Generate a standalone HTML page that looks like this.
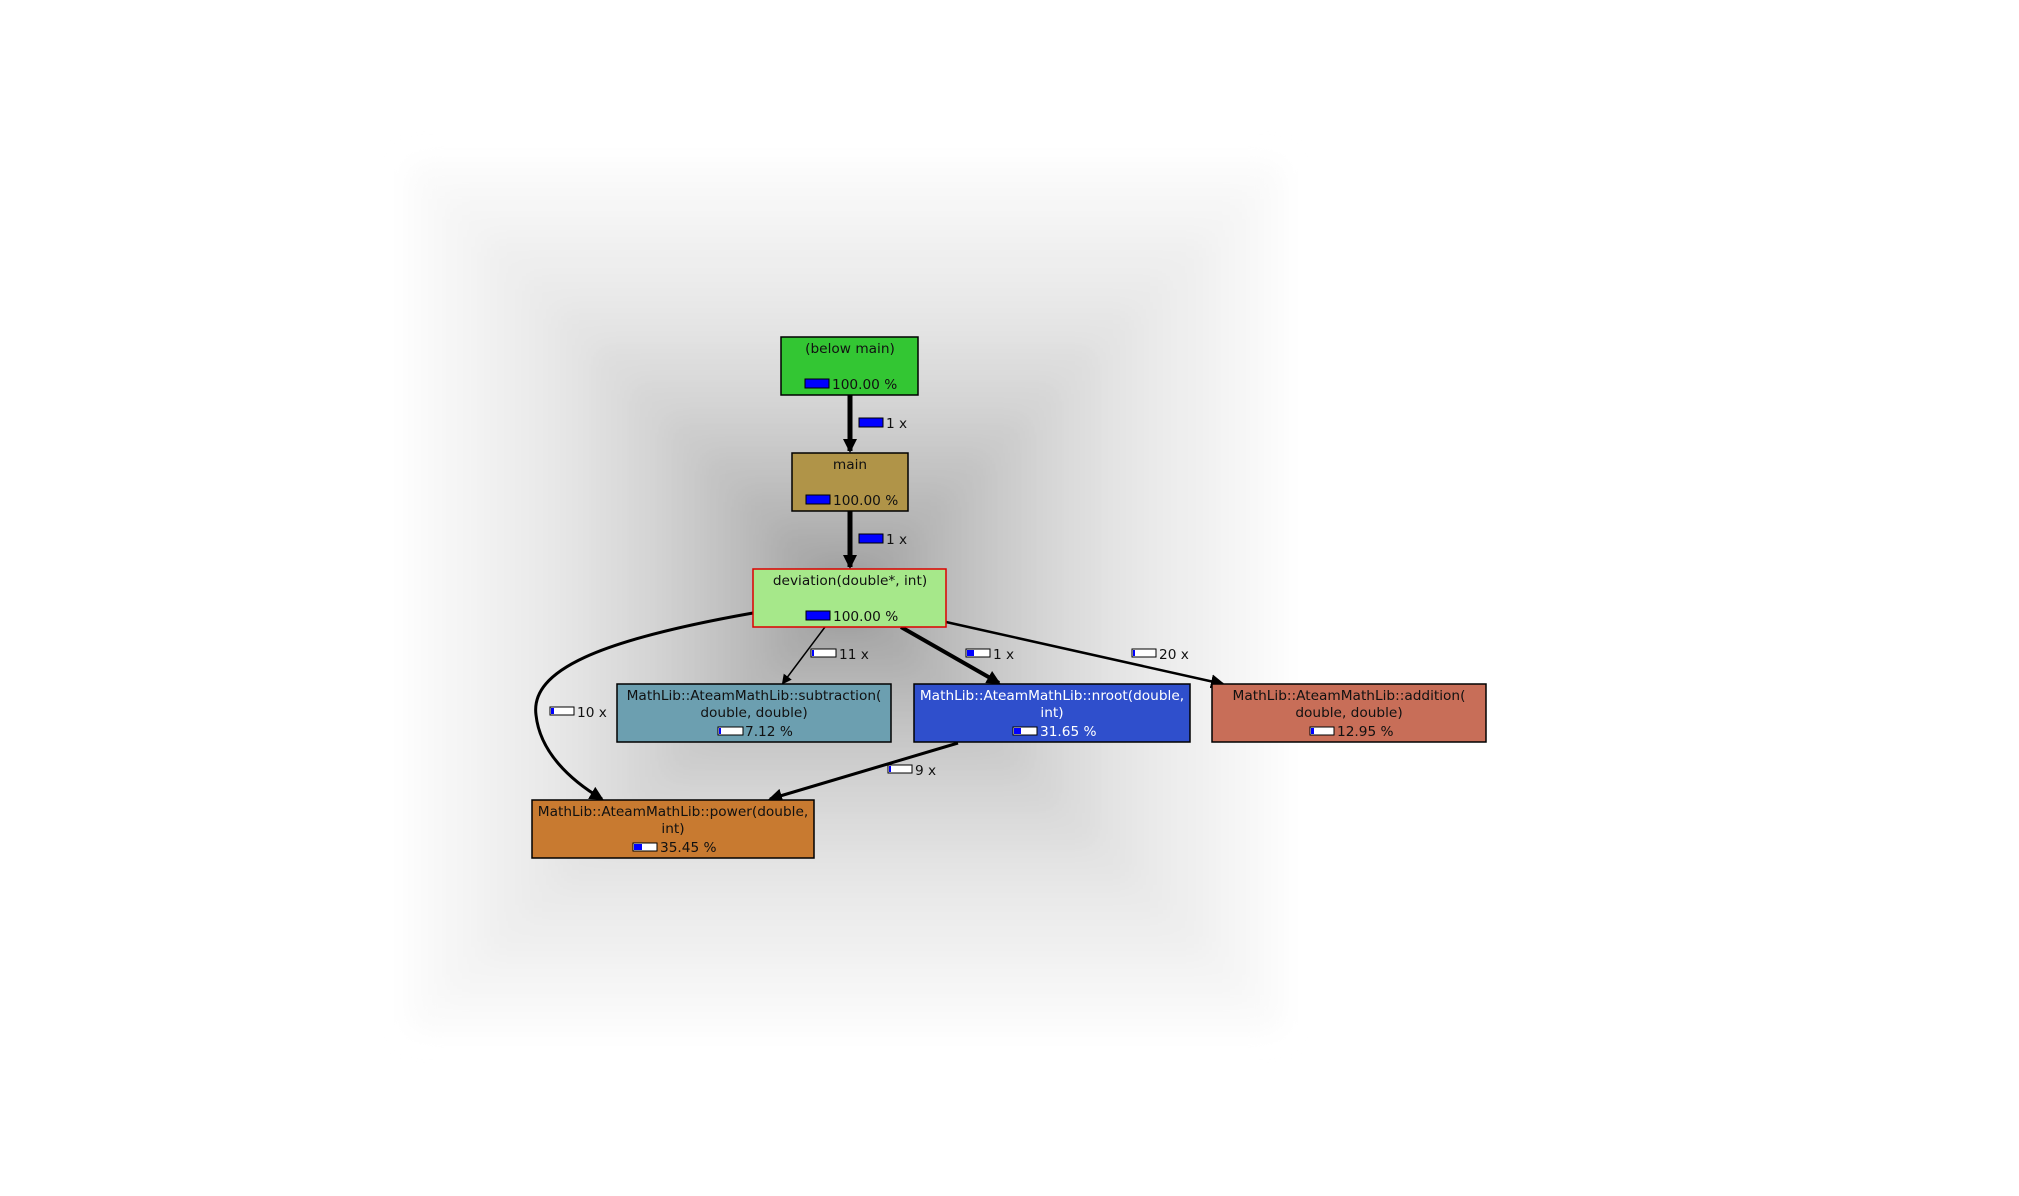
<!DOCTYPE html>
<html><head><meta charset="utf-8"><style>
html,body{margin:0;padding:0;background:#fff;}
svg{display:block;}
text{font-family:"DejaVu Sans","Liberation Sans",sans-serif;font-size:13.7px;fill:#111;}
</style></head><body>
<svg width="2019" height="1196" viewBox="0 0 2019 1196" xmlns="http://www.w3.org/2000/svg">
<defs>
<filter id="bl" x="-5%" y="-5%" width="110%" height="110%"><feGaussianBlur stdDeviation="14"/></filter>
<marker id="ah" markerWidth="10" markerHeight="10" refX="8" refY="5" orient="auto" markerUnits="userSpaceOnUse"><path d="M0,0 L10,5 L0,10 z" fill="#000"/></marker>
<marker id="ah2" markerWidth="14" markerHeight="14" refX="12" refY="7" orient="auto" markerUnits="userSpaceOnUse"><path d="M0,0 L14,7 L0,14 z" fill="#000"/></marker>
</defs>
<g filter="url(#bl)">
<rect x="411" y="165" width="870" height="864" fill="#f9f9f9"/>
<rect x="447" y="201" width="798" height="792" fill="#f4f4f4"/>
<rect x="484" y="237" width="725" height="720" fill="#efefef"/>
<rect x="520" y="273" width="652" height="648" fill="#eaeaea"/>
<rect x="556" y="309" width="580" height="576" fill="#e4e4e4"/>
<rect x="592" y="345" width="507" height="504" fill="#dddddd"/>
<rect x="628" y="381" width="435" height="432" fill="#d5d5d5"/>
<rect x="665" y="417" width="363" height="360" fill="#cccccc"/>
<rect x="701" y="453" width="290" height="288" fill="#c2c2c2"/>
<rect x="737" y="489" width="218" height="216" fill="#b8b8b8"/>
<rect x="773" y="525" width="145" height="144" fill="#acacac"/>
<rect x="810" y="561" width="72" height="72" fill="#9e9e9e"/>
</g>

<g fill="none" stroke="#000">
<line x1="850" y1="395" x2="850" y2="451" stroke-width="5" marker-end="url(#ah2)"/>
<line x1="850" y1="511" x2="850" y2="567" stroke-width="5" marker-end="url(#ah2)"/>
<line x1="825" y1="627" x2="783" y2="683" stroke-width="1.5" marker-end="url(#ah)"/>
<line x1="901" y1="627" x2="999" y2="683" stroke-width="4" marker-end="url(#ah2)"/>
<line x1="946" y1="622" x2="1223" y2="684" stroke-width="2.5" marker-end="url(#ah2)"/>
<path d="M753,613 C600,640 530,670 536,715 C540,752 570,780 602,799" stroke-width="3" marker-end="url(#ah2)"/>
<line x1="958" y1="743" x2="770" y2="799" stroke-width="3" marker-end="url(#ah2)"/>
</g>

<g>
<rect x="859" y="418" width="24" height="9" fill="#00f" stroke="#000"/><text x="886" y="428">1 x</text>
<rect x="859" y="534" width="24" height="9" fill="#00f" stroke="#000"/><text x="886" y="544">1 x</text>
<rect x="811" y="649" width="25" height="8" fill="#fff" stroke="#000"/><rect x="812" y="650" width="2" height="6" fill="#00f"/><text x="839" y="659">11 x</text>
<rect x="966" y="649" width="24" height="8" fill="#fff" stroke="#000"/><rect x="967" y="650" width="7" height="6" fill="#00f"/><text x="993" y="659">1 x</text>
<rect x="1132" y="649" width="24" height="8" fill="#fff" stroke="#000"/><rect x="1133" y="650" width="2" height="6" fill="#00f"/><text x="1159" y="659">20 x</text>
<rect x="550" y="707" width="24" height="8" fill="#fff" stroke="#000"/><rect x="551" y="708" width="3" height="6" fill="#00f"/><text x="577" y="717">10 x</text>
<rect x="888" y="765" width="24" height="8" fill="#fff" stroke="#000"/><rect x="889" y="766" width="2" height="6" fill="#00f"/><text x="915" y="775">9 x</text>
</g>

<rect x="781" y="337" width="137" height="58" fill="#33c633" stroke="#000" stroke-width="1.5"/>
<text x="850" y="353" text-anchor="middle">(below main)</text>
<rect x="805" y="379" width="24" height="9" fill="#00f" stroke="#000"/><text x="832" y="389">100.00 %</text>

<rect x="792" y="453" width="116" height="58" fill="#b09448" stroke="#000" stroke-width="1.5"/>
<text x="850" y="469" text-anchor="middle">main</text>
<rect x="806" y="495" width="24" height="9" fill="#00f" stroke="#000"/><text x="833" y="505">100.00 %</text>

<rect x="753" y="569" width="193" height="58" fill="#a6e88a" stroke="#d00" stroke-width="1.5"/>
<text x="850" y="585" text-anchor="middle">deviation(double*, int)</text>
<rect x="806" y="611" width="24" height="9" fill="#00f" stroke="#000"/><text x="833" y="621">100.00 %</text>

<rect x="617" y="684" width="274" height="58" fill="#6c9fb0" stroke="#000" stroke-width="1.5"/>
<text x="754" y="700" text-anchor="middle">MathLib::AteamMathLib::subtraction(</text>
<text x="754" y="717" text-anchor="middle">double, double)</text>
<rect x="718" y="727" width="25" height="8" fill="#fff" stroke="#000"/><rect x="719" y="728" width="2" height="6" fill="#00f"/><text x="745" y="736">7.12 %</text>

<rect x="914" y="684" width="276" height="58" fill="#2f4fcc" stroke="#000" stroke-width="1.5"/>
<text x="1052" y="700" text-anchor="middle" style="fill:#fff">MathLib::AteamMathLib::nroot(double,</text>
<text x="1052" y="717" text-anchor="middle" style="fill:#fff">int)</text>
<rect x="1013" y="727" width="24" height="8" fill="#fff" stroke="#000"/><rect x="1014" y="728" width="7" height="6" fill="#00f"/><text x="1040" y="736" style="fill:#fff">31.65 %</text>

<rect x="1212" y="684" width="274" height="58" fill="#c86e58" stroke="#000" stroke-width="1.5"/>
<text x="1349" y="700" text-anchor="middle">MathLib::AteamMathLib::addition(</text>
<text x="1349" y="717" text-anchor="middle">double, double)</text>
<rect x="1310" y="727" width="24" height="8" fill="#fff" stroke="#000"/><rect x="1311" y="728" width="3" height="6" fill="#00f"/><text x="1337" y="736">12.95 %</text>

<rect x="532" y="800" width="282" height="58" fill="#c87a30" stroke="#000" stroke-width="1.5"/>
<text x="673" y="816" text-anchor="middle">MathLib::AteamMathLib::power(double,</text>
<text x="673" y="833" text-anchor="middle">int)</text>
<rect x="633" y="843" width="24" height="8" fill="#fff" stroke="#000"/><rect x="634" y="844" width="8" height="6" fill="#00f"/><text x="660" y="852">35.45 %</text>
</svg>
</body></html>
